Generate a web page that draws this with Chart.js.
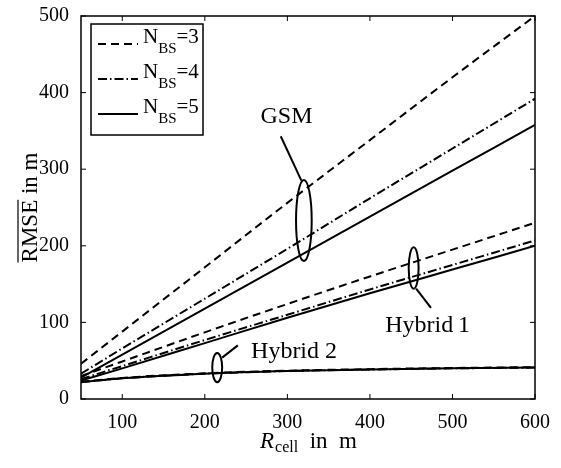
<!DOCTYPE html>
<html>
<head>
<meta charset="utf-8">
<script src="https://cdn.jsdelivr.net/npm/chart.js@4.4.1/dist/chart.umd.min.js"></script>
<style>
  body { margin: 0; background: #fff; }
  #wrap { width: 561px; height: 468px; }
</style>
</head>
<body>
<div id="wrap"><canvas id="rmseChart"></canvas></div>
<script>
'use strict';

// Values (RMSE in m vs cell radius in m)
let cellRadius = [50, 100, 200, 300, 400, 500, 600];

let gsm3 = [46, 88, 172, 256, 338, 420, 500];
let gsm4 = [33, 66, 131, 196, 262, 327, 392];
let gsm5 = [28, 58, 118, 178, 238, 298, 358];

let hybrid1N3 = [30, 49, 87, 124, 160, 195, 230];
let hybrid1N4 = [26, 43, 77, 110, 143, 175, 207];
let hybrid1N5 = [24, 40, 73, 106, 138, 169, 200];

let hybrid2N3 = [22.5, 27.5, 33.5, 37, 39, 40.5, 41.5];
let hybrid2N4 = [22, 27, 33, 36.5, 38.5, 40, 41];
let hybrid2N5 = [22, 27, 33, 36.5, 38.5, 40, 41];

let xTicks = [100, 200, 300, 400, 500, 600];
let yTicks = [0, 100, 200, 300, 400, 500];

let legendLabels = ['3', '4', '5'];

// Dash styles per number of base stations
const DASHED = [8, 5];
const DASHDOT = [9, 3, 1.5, 3];
const SOLID = [];
let styles = [DASHED, DASHDOT, SOLID];

// Callouts: ellipse centre / half sizes and label, in data units
let callouts = [
  { text: 'GSM', cx: 320, cy: 233, rx: 9.5, ry: 53, from: [317, 285], to: [292, 343], tx: 299, ty: 369, align: 'center' },
  { text: 'Hybrid\u20091', cx: 453, cy: 171, rx: 6, ry: 27, from: [456, 144], to: [474, 119], tx: 470, ty: 96, align: 'center' },
  { text: 'Hybrid 2', cx: 215, cy: 41, rx: 6, ry: 19, from: [221, 54], to: [240, 70], tx: 256, ty: 62, align: 'left' }
];

function series(values) {
  return values.map((v, i) => ({ x: cellRadius[i], y: v }));
}

function makeSet(values, dash) {
  return {
    data: series(values),
    borderColor: '#000',
    borderWidth: 2,
    borderDash: dash,
    pointRadius: 0,
    fill: false,
    cubicInterpolationMode: 'monotone'
  };
}

let datasets = [
  makeSet(gsm3, DASHED), makeSet(gsm4, DASHDOT), makeSet(gsm5, SOLID),
  makeSet(hybrid1N3, DASHED), makeSet(hybrid1N4, DASHDOT), makeSet(hybrid1N5, SOLID),
  makeSet(hybrid2N3, DASHED), makeSet(hybrid2N4, DASHDOT), makeSet(hybrid2N5, SOLID)
];

const SERIF = '"Liberation Serif", "Times New Roman", serif';

// Box, inward ticks, callouts, legend and axis titles
const decorations = {
  id: 'decorations',
  afterDraw(chart) {
    const ctx = chart.ctx;
    const area = chart.chartArea;
    const xs = chart.scales.x;
    const ys = chart.scales.y;
    const tickLen = 5;

    ctx.save();
    ctx.strokeStyle = '#000';
    ctx.fillStyle = '#000';
    ctx.setLineDash([]);

    // frame
    ctx.lineWidth = 1.5;
    ctx.strokeRect(area.left, area.top, area.right - area.left, area.bottom - area.top);

    // inward ticks on all four sides
    ctx.lineWidth = 1;
    ctx.beginPath();
    xTicks.forEach(v => {
      let px = xs.getPixelForValue(v);
      ctx.moveTo(px, area.bottom); ctx.lineTo(px, area.bottom - tickLen);
      ctx.moveTo(px, area.top); ctx.lineTo(px, area.top + tickLen);
    });
    yTicks.forEach(v => {
      let py = ys.getPixelForValue(v);
      ctx.moveTo(area.left, py); ctx.lineTo(area.left + tickLen, py);
      ctx.moveTo(area.right, py); ctx.lineTo(area.right - tickLen, py);
    });
    ctx.stroke();

    // callouts
    callouts.forEach(c => {
      let cx = xs.getPixelForValue(c.cx);
      let cy = ys.getPixelForValue(c.cy);
      let rx = Math.abs(xs.getPixelForValue(c.cx + c.rx) - cx);
      let ry = Math.abs(ys.getPixelForValue(c.cy + c.ry) - cy);
      ctx.lineWidth = 2;
      ctx.beginPath();
      ctx.ellipse(cx, cy, rx, ry, 0, 0, Math.PI * 2);
      ctx.stroke();
      ctx.beginPath();
      ctx.moveTo(xs.getPixelForValue(c.from[0]), ys.getPixelForValue(c.from[1]));
      ctx.lineTo(xs.getPixelForValue(c.to[0]), ys.getPixelForValue(c.to[1]));
      ctx.stroke();
      ctx.font = '24px ' + SERIF;
      ctx.textAlign = c.align;
      ctx.textBaseline = 'middle';
      ctx.fillText(c.text, xs.getPixelForValue(c.tx), ys.getPixelForValue(c.ty));
    });

    // legend
    let lx = area.left + 10;
    let ly = area.top + 8;
    ctx.fillStyle = '#fff';
    ctx.fillRect(lx, ly, 112, 111);
    ctx.fillStyle = '#000';
    ctx.lineWidth = 1.5;
    ctx.strokeRect(lx, ly, 112, 111);
    legendLabels.forEach((lab, i) => {
      let y = ly + 20 + i * 35;
      ctx.lineWidth = 2;
      ctx.setLineDash(styles[i]);
      ctx.beginPath();
      ctx.moveTo(lx + 7, y);
      ctx.lineTo(lx + 47, y);
      ctx.stroke();
      ctx.setLineDash([]);
      ctx.textAlign = 'left';
      ctx.textBaseline = 'alphabetic';
      let tx = lx + 52;
      ctx.font = '21px ' + SERIF;
      ctx.fillText('N', tx, y - 1);
      tx += ctx.measureText('N').width;
      ctx.font = '15px ' + SERIF;
      ctx.fillText('BS', tx, y + 9);
      tx += ctx.measureText('BS').width;
      ctx.font = '21px ' + SERIF;
      ctx.fillText('=' + lab, tx, y - 1);
    });

    // x axis title: R_cell in m
    let big = '23px ' + SERIF;
    let bigItalic = 'italic 23px ' + SERIF;
    let small = '16px ' + SERIF;
    ctx.font = bigItalic; let wR = ctx.measureText('R').width;
    ctx.font = small; let wCell = ctx.measureText('cell').width;
    ctx.font = big; let wRest = ctx.measureText('  in  m').width;
    let total = wR + wCell + wRest;
    let x0 = (area.left + area.right) / 2 - total / 2;
    let yb = 448;
    ctx.textAlign = 'left';
    ctx.textBaseline = 'alphabetic';
    ctx.font = bigItalic; ctx.fillText('R', x0, yb);
    ctx.font = small; ctx.fillText('cell', x0 + wR + 1, yb + 4);
    ctx.font = big; ctx.fillText('  in  m', x0 + wR + wCell + 1, yb);

    // y axis title: overline RMSE in m
    ctx.save();
    ctx.translate(37, (area.top + area.bottom) / 2);
    ctx.rotate(-Math.PI / 2);
    ctx.font = big;
    let wRmse = ctx.measureText('RMSE').width;
    let wIn = ctx.measureText(' in m').width;
    let sx = -(wRmse + wIn) / 2;
    ctx.fillText('RMSE', sx, 0);
    ctx.fillText(' in m', sx + wRmse, 0);
    ctx.lineWidth = 1.2;
    ctx.beginPath();
    ctx.moveTo(sx, -19);
    ctx.lineTo(sx + wRmse, -19);
    ctx.stroke();
    ctx.restore();

    ctx.restore();
  }
};

const ctx = document.getElementById('rmseChart');
new Chart(ctx, {
  type: 'line',
  data: { datasets: datasets },
  options: {
    responsive: true,
    maintainAspectRatio: false,
    animation: false,
    layout: { padding: { top: 10, right: 26, left: 0, bottom: 0 } },
    plugins: {
      legend: { display: false },
      tooltip: { enabled: false }
    },
    scales: {
      x: {
        type: 'linear',
        min: 50,
        max: 600,
        afterBuildTicks: s => { s.ticks = xTicks.map(v => ({ value: v })); },
        afterFit: s => { s.height = 69; },
        grid: { display: false },
        border: { display: false },
        ticks: {
          color: '#000',
          font: { family: SERIF, size: 20 },
          padding: 4,
          maxRotation: 0
        }
      },
      y: {
        min: 0,
        max: 500,
        afterBuildTicks: s => { s.ticks = yTicks.map(v => ({ value: v })); },
        afterFit: s => { s.width = 81; },
        grid: { display: false },
        border: { display: false },
        ticks: {
          color: '#000',
          font: { family: SERIF, size: 20 },
          padding: 4
        }
      }
    }
  },
  plugins: [decorations]
});
</script>
</body>
</html>
